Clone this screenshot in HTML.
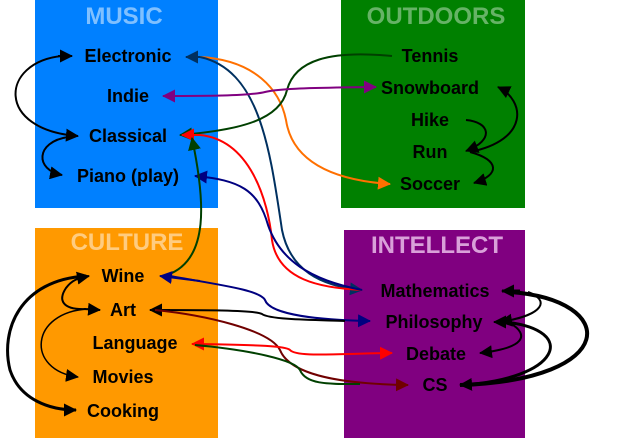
<!DOCTYPE html>
<html><head><meta charset="utf-8"><style>body{margin:0;background:#fff}svg{display:block}</style></head><body>
<svg width="619" height="438" viewBox="0 0 619 438" xmlns="http://www.w3.org/2000/svg" font-family="Liberation Sans, Arial, sans-serif" font-weight="bold">
<defs>
<marker id="kb" markerWidth="13" markerHeight="13" refX="12" refY="6.5" orient="auto" markerUnits="userSpaceOnUse" viewBox="0 0 13 13"><path d="M0,0L13,6.5L0,13z" fill="#000"/></marker>
<marker id="r" markerWidth="13" markerHeight="13" refX="12" refY="6.5" orient="auto" markerUnits="userSpaceOnUse" viewBox="0 0 13 13"><path d="M0,0L13,6.5L0,13z" fill="#f00"/></marker>
<marker id="o" markerWidth="13" markerHeight="13" refX="12" refY="6.5" orient="auto" markerUnits="userSpaceOnUse" viewBox="0 0 13 13"><path d="M0,0L13,6.5L0,13z" fill="#ff7000"/></marker>
<marker id="g" markerWidth="13" markerHeight="13" refX="12" refY="6.5" orient="auto" markerUnits="userSpaceOnUse" viewBox="0 0 13 13"><path d="M0,0L13,6.5L0,13z" fill="#004000"/></marker>
<marker id="n" markerWidth="13" markerHeight="13" refX="12" refY="6.5" orient="auto" markerUnits="userSpaceOnUse" viewBox="0 0 13 13"><path d="M0,0L13,6.5L0,13z" fill="#000080"/></marker>
<marker id="s" markerWidth="13" markerHeight="13" refX="12" refY="6.5" orient="auto" markerUnits="userSpaceOnUse" viewBox="0 0 13 13"><path d="M0,0L13,6.5L0,13z" fill="#003060"/></marker>
<marker id="p" markerWidth="13" markerHeight="13" refX="12" refY="6.5" orient="auto" markerUnits="userSpaceOnUse" viewBox="0 0 13 13"><path d="M0,0L13,6.5L0,13z" fill="#800080"/></marker>
<marker id="m" markerWidth="13" markerHeight="13" refX="12" refY="6.5" orient="auto" markerUnits="userSpaceOnUse" viewBox="0 0 13 13"><path d="M0,0L13,6.5L0,13z" fill="#700000"/></marker>
</defs>
<rect x="35" y="0" width="183" height="208" fill="#0080ff"/>
<rect x="341" y="0" width="184" height="208" fill="#008000"/>
<rect x="35" y="228" width="183" height="210" fill="#ff9900"/>
<rect x="344" y="230" width="181" height="208" fill="#800080"/>
<g font-size="24" text-anchor="middle">
<text x="124" y="24" fill="#80c0ff">MUSIC</text>
<text x="436" y="24" fill="#66b366">OUTDOORS</text>
<text x="127" y="250" fill="#ffcc80">CULTURE</text>
<text x="437" y="253" fill="#d9a0d9">INTELLECT</text>
</g>
<g font-size="18" text-anchor="middle" fill="#000">
<text x="128" y="62">Electronic</text>
<text x="128" y="102">Indie</text>
<text x="128" y="142">Classical</text>
<text x="128" y="182">Piano (play)</text>
<text x="430" y="62">Tennis</text>
<text x="430" y="94">Snowboard</text>
<text x="430" y="126">Hike</text>
<text x="430" y="158">Run</text>
<text x="430" y="190">Soccer</text>
<text x="123" y="282">Wine</text>
<text x="123" y="316">Art</text>
<text x="135" y="349">Language</text>
<text x="123" y="383">Movies</text>
<text x="123" y="417">Cooking</text>
<text x="435" y="297">Mathematics</text>
<text x="434" y="328">Philosophy</text>
<text x="436" y="360">Debate</text>
<text x="435" y="391">CS</text>
</g>
<g fill="none" stroke-width="2">
<path d="M62,56C0,62 -5,130 78,136" stroke="#000" marker-end="url(#kb)"/>
<path d="M58,56L72,56" stroke="#000" marker-end="url(#kb)"/>
<path d="M68,137C35,142 35,170 62,175" stroke="#000" marker-end="url(#kb)"/>
<path d="M200,57C255,60 280,90 286,120C292,160 330,180 390,184" stroke="#ff7000" marker-end="url(#o)"/>
<path d="M200,57C260,70 270,150 282,230C290,270 320,286 362,290" stroke="#003060" marker-end="url(#s)" marker-start="none"/>
<path d="M200,57L186,57" stroke="#003060" marker-end="url(#s)"/>
<path d="M392,56C330,50 295,60 287,90C280,120 240,130 180,135" stroke="#004000" marker-end="url(#g)"/>
<path d="M368,87C320,88 280,88 265,92C250,96 200,96 163,96" stroke="#800080" marker-end="url(#p)"/>
<path d="M368,87L376,87" stroke="#800080" marker-end="url(#p)"/>
<path d="M200,135C250,140 268,200 272,240C278,280 320,288 362,290" stroke="#f00"/>
<path d="M200,135L182,135" stroke="#f00" marker-end="url(#r)"/>
<path d="M362,290C310,280 280,260 268,225C258,190 240,180 195,176" stroke="#000080" marker-end="url(#n)"/>
<path d="M167,275C210,260 205,200 192,138" stroke="#004000" marker-end="url(#g)"/>
<path d="M170,276C220,285 260,290 265,300C270,315 320,320 370,321" stroke="#000080" marker-end="url(#n)"/>
<path d="M200,281L160,276" stroke="#000080" marker-end="url(#n)"/>
<path d="M150,310C200,310 255,310 262,314C270,320 320,320 345,321" stroke="#000"/>
<path d="M170,310L150,310" stroke="#000" marker-end="url(#kb)"/>
<path d="M155,310C205,315 270,330 280,350C290,375 340,384 408,385" stroke="#700000" marker-end="url(#m)"/>
<path d="M200,344C240,345 285,345 290,350C296,357 330,354 392,353" stroke="#f00" marker-end="url(#r)"/>
<path d="M200,344L192,344" stroke="#f00" marker-end="url(#r)"/>
<path d="M195,345C250,350 295,360 300,370C306,385 330,384 360,384" stroke="#004000"/>
<path d="M86,309C62,310 58,300 66,288C72,280 78,278 89,276" stroke="#000" marker-end="url(#kb)"/>
<path d="M88,309C30,312 25,370 78,377" stroke="#000" stroke-width="1.5" marker-end="url(#kb)"/>
<path d="M84,309L100,310" stroke="#000" marker-end="url(#kb)"/>
<path d="M86,276C20,280 0,330 10,370C20,400 50,410 76,410" stroke="#000" stroke-width="3" marker-end="url(#kb)"/>
<path d="M466,120C490,122 495,140 466,151" stroke="#000" marker-end="url(#kb)"/>
<path d="M470,152C530,140 525,100 498,87" stroke="#000" marker-end="url(#kb)"/>
<path d="M470,152C500,160 500,175 474,183" stroke="#000" marker-end="url(#kb)"/>
<path d="M528,292C550,300 545,315 500,322" stroke="#000" marker-end="url(#kb)"/>
<path d="M520,291L502,291" stroke="#000" stroke-width="3" marker-end="url(#kb)"/>
<path d="M510,323C530,335 525,348 480,353" stroke="#000" marker-end="url(#kb)"/>
<path d="M505,322L494,322" stroke="#000" marker-end="url(#kb)"/>
<path d="M505,322C580,330 560,380 460,385" stroke="#000" stroke-width="3" marker-end="url(#kb)"/>
<path d="M510,292C620,300 620,380 460,385" stroke="#000" stroke-width="4"/>
</g>
</svg>
</body></html>
